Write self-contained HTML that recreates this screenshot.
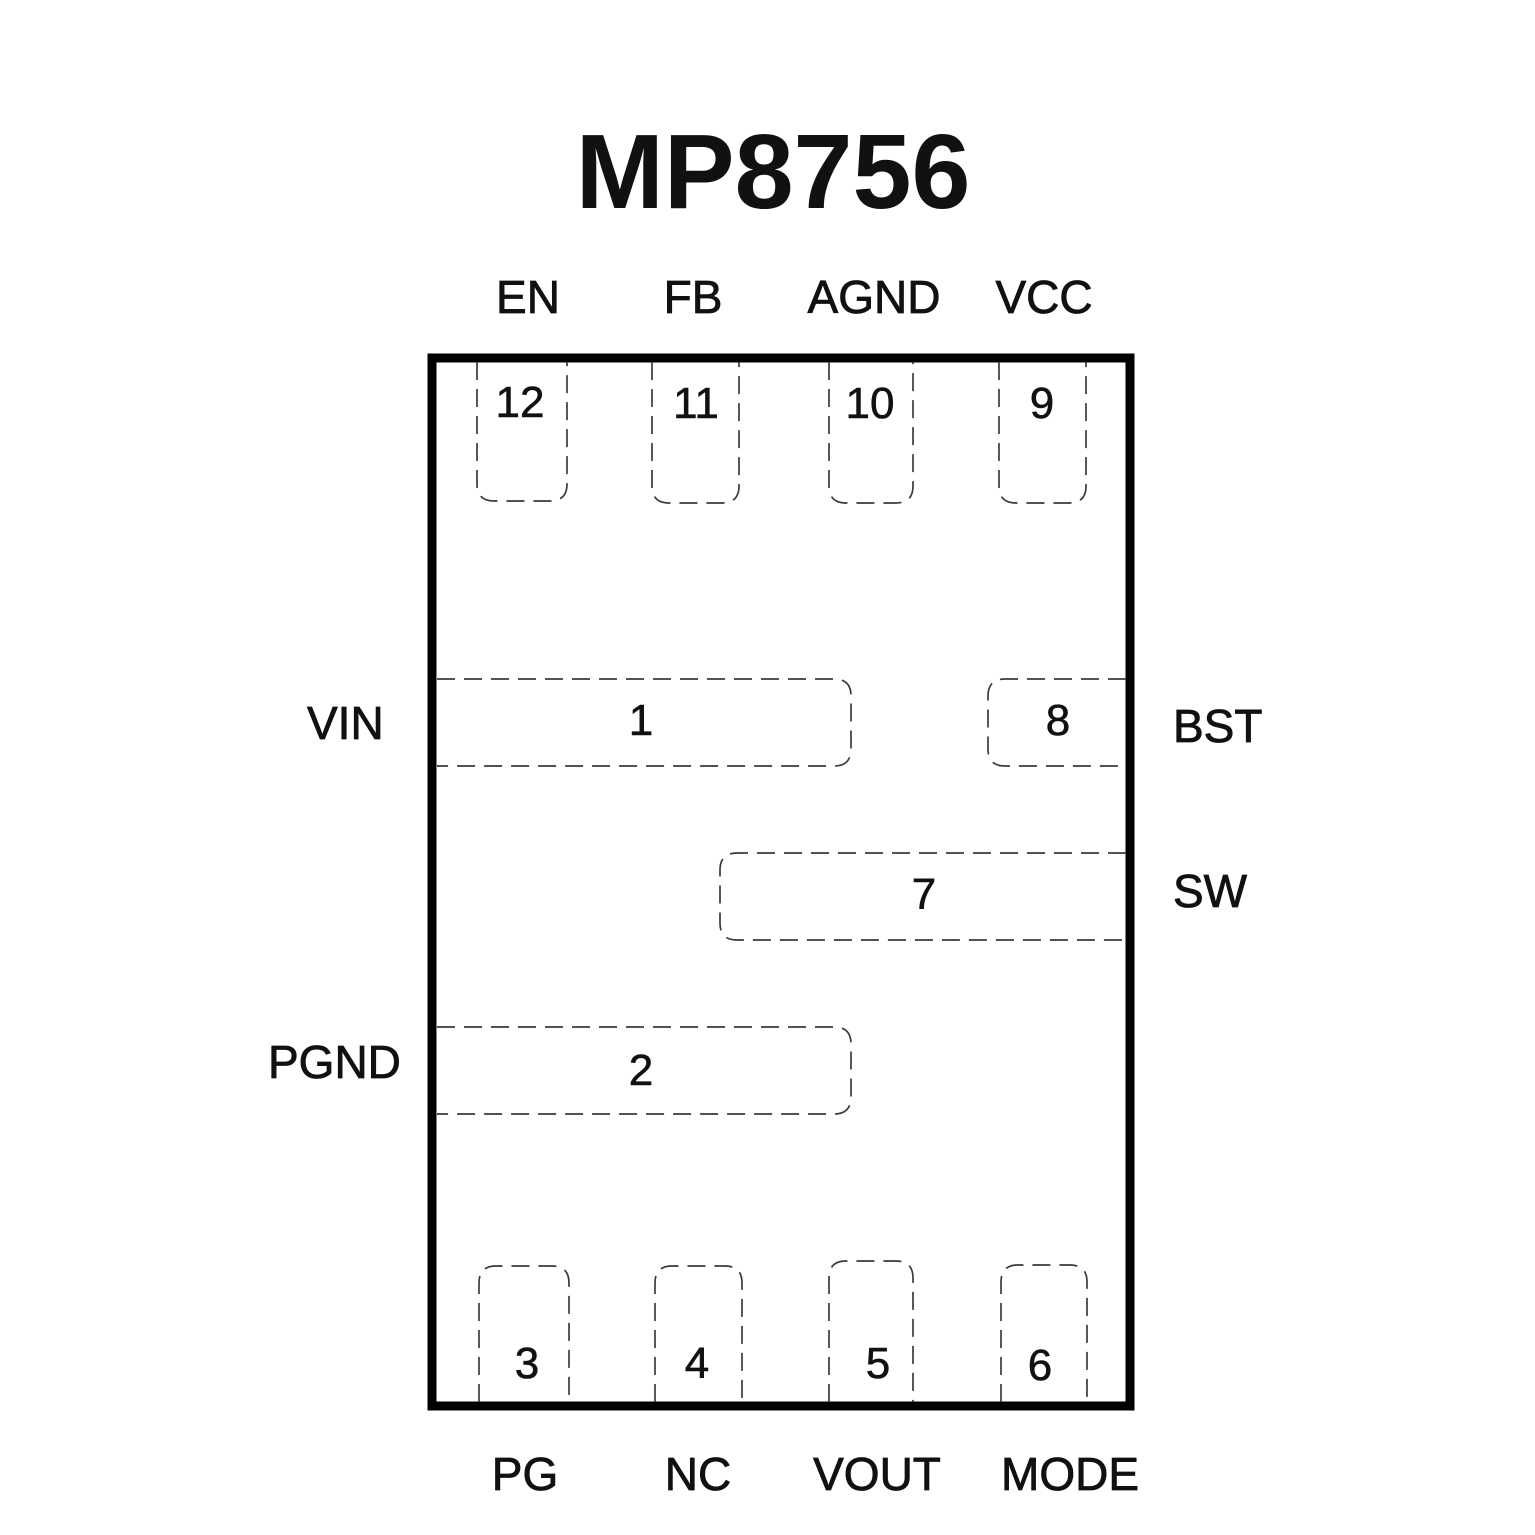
<!DOCTYPE html>
<html><head><style>
html,body{margin:0;padding:0;background:#fff;}
svg{display:block;}
text{font-family:"Liberation Sans",Arial,sans-serif;fill:#111;}
</style></head><body>
<svg width="1535" height="1535" viewBox="0 0 1535 1535">
<text x="773" y="208" font-size="106" font-weight="bold" text-anchor="middle" fill="#000">MP8756</text>
<rect x="432" y="358" width="698" height="1048" fill="none" stroke="#000" stroke-width="9"/>
<g fill="none" stroke="#3a3a3a" stroke-width="1.7" stroke-dasharray="18,9">
<path d="M477,362 V484 Q477,501 494,501 H550 Q567,501 567,484 V362"/>
<path d="M652,362 V486 Q652,503 669,503 H722 Q739,503 739,486 V362"/>
<path d="M829,362 V486 Q829,503 846,503 H896 Q913,503 913,486 V362"/>
<path d="M999,362 V486 Q999,503 1016,503 H1069 Q1086,503 1086,486 V362"/>
<path d="M479,1402 V1283 Q479,1266 496,1266 H552 Q569,1266 569,1283 V1402"/>
<path d="M655,1402 V1283 Q655,1266 672,1266 H725 Q742,1266 742,1283 V1402"/>
<path d="M829,1402 V1278 Q829,1261 846,1261 H896 Q913,1261 913,1278 V1402"/>
<path d="M1001,1402 V1282 Q1001,1265 1018,1265 H1070 Q1087,1265 1087,1282 V1402"/>
<path d="M437,679 H834 Q851,679 851,696 V749 Q851,766 834,766 H437"/>
<path d="M437,1027 H834 Q851,1027 851,1044 V1097 Q851,1114 834,1114 H437"/>
<path d="M1126,679 H1005 Q988,679 988,696 V749 Q988,766 1005,766 H1126"/>
<path d="M1126,853 H737 Q720,853 720,870 V923 Q720,940 737,940 H1126"/>
</g>
<g font-size="46" text-anchor="middle" stroke="#111" stroke-width="0.8">
<text x="528" y="313">EN</text>
<text x="693" y="313">FB</text>
<text x="874" y="313">AGND</text>
<text x="1044" y="313">VCC</text>
<text x="525" y="1490">PG</text>
<text x="698" y="1490">NC</text>
<text x="877" y="1490">VOUT</text>
<text x="1070" y="1490">MODE</text>
</g>
<g font-size="46" stroke="#111" stroke-width="0.8">
<text x="307" y="739">VIN</text>
<text x="268" y="1078">PGND</text>
<text x="1173" y="742">BST</text>
<text x="1173" y="907">SW</text>
</g>
<g font-size="44" text-anchor="middle" stroke="#111" stroke-width="0.6">
<text x="520" y="417">12</text>
<text x="696" y="418">11</text>
<text x="870" y="418">10</text>
<text x="1042" y="418">9</text>
<text x="641" y="735">1</text>
<text x="1058" y="735">8</text>
<text x="924" y="909">7</text>
<text x="641" y="1085">2</text>
<text x="527" y="1378">3</text>
<text x="697" y="1378">4</text>
<text x="878" y="1378">5</text>
<text x="1040" y="1380">6</text>
</g>
</svg>
</body></html>
